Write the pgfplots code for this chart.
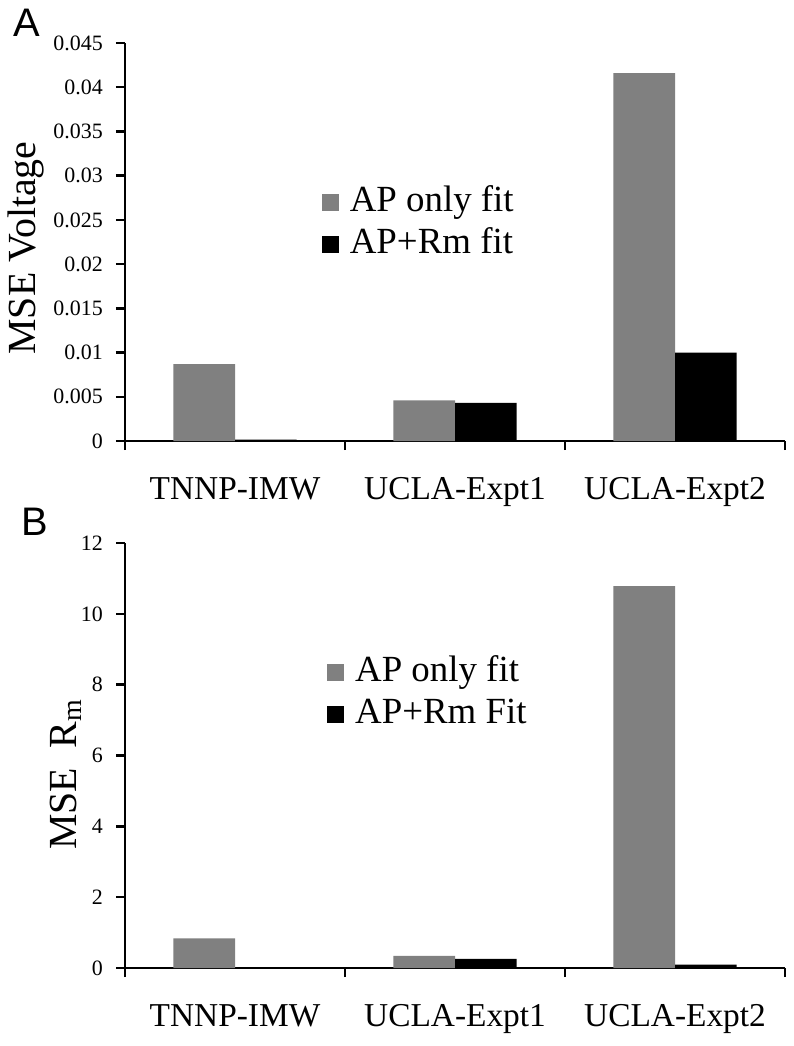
\documentclass[border=0pt]{standalone}
\usepackage{pgfplots}
\pgfplotsset{compat=1.18}
\usepackage{fontspec}
\setmainfont{Liberation Serif}
\newfontfamily\panelfont{Liberation Sans}
\definecolor{bargray}{HTML}{808080}
\newcommand{\tickfont}{\rmfamily\fontsize{22}{23}\selectfont}
\pgfplotsset{
  sqleg/.style={legend image code/.code={\fill[##1] (0bp,-8bp) rectangle (17bp,9bp);}},
  mybars/.style={
    scale only axis, width=660bp,
    xmin=-0.5, xmax=2.5, ymin=0,
    axis x line*=bottom, axis y line*=left,
    axis line style={line width=2.5bp, black},
    every tick/.style={black, line width=2.5bp},
    tick align=outside,
    major tick length=9bp,
    xtick={-0.5,0.5,1.5,2.5}, xticklabels={,,,},
    extra x ticks={0,1,2},
    extra x tick labels={TNNP-IMW,UCLA-Expt1,UCLA-Expt2},
    extra x tick style={tick style={draw=none}, major tick length=0pt,
      xticklabel style={anchor=center, yshift=-50bp, text height=23bp, text depth=7bp,
        font=\rmfamily\fontsize{33.5}{35}\selectfont}},
    y tick label style={font=\tickfont, anchor=east, inner sep=0pt, xshift=-13bp},
    scaled y ticks=false,
    ylabel style={font=\rmfamily\fontsize{40}{40}\selectfont},
    legend style={draw=none, fill=none, anchor=north west, inner sep=0pt,
      column sep=9bp,
      font=\rmfamily\fontsize{37}{37}\selectfont,
      nodes={text height=27bp, text depth=11bp, inner sep=2bp}},
    legend cell align=left,
  },
}
\begin{document}
\begin{tikzpicture}
\useasboundingbox (0,0) rectangle (794bp,-1046bp);
% Panel A
\begin{axis}[mybars, at={(125bp,-441bp)}, anchor=south west, height=398bp,
  ymax=0.045, ytick={0,0.005,0.01,0.015,0.02,0.025,0.03,0.035,0.04,0.045},
  yticklabels={0,0.005,0.01,0.015,0.02,0.025,0.03,0.035,0.04,0.045},
  ylabel={MSE Voltage},
  ylabel style={at={(axis description cs:-0.15,0.485)}, anchor=center},
  legend style={at={(0.298,0.651)}}]
\addplot[fill=bargray, draw=none, ybar, bar width=0.28, bar shift=-0.14, sqleg]
  coordinates {(0,0.0087) (1,0.0046) (2,0.0416)};
\addplot[fill=black, draw=none, ybar, bar width=0.28, bar shift=0.14, sqleg]
  coordinates {(0,0.00015) (1,0.0043) (2,0.0100)};
\legend{AP only fit, AP+Rm fit}
\end{axis}
% Panel B
\begin{axis}[mybars, at={(125bp,-968bp)}, anchor=south west, height=425bp,
  ymax=12, ytick={0,2,4,6,8,10,12},
  yticklabels={0,2,4,6,8,10,12},
  ylabel={MSE\ \ R\textsubscript{m}},
  ylabel style={at={(axis description cs:-0.09,0.455)}, anchor=center},
  legend style={at={(0.306,0.744)}}]
\addplot[fill=bargray, draw=none, ybar, bar width=0.28, bar shift=-0.14, sqleg]
  coordinates {(0,0.84) (1,0.34) (2,10.78)};
\addplot[fill=black, draw=none, ybar, bar width=0.28, bar shift=0.14, sqleg]
  coordinates {(0,0.005) (1,0.26) (2,0.094)};
\legend{AP only fit, AP+Rm Fit}
\end{axis}
\node[font=\panelfont\fontsize{40}{40}\selectfont, anchor=center] at (27bp,-23bp) {A};
\node[font=\panelfont\fontsize{40}{40}\selectfont, anchor=center] at (35bp,-522bp) {B};
\end{tikzpicture}
\end{document}
